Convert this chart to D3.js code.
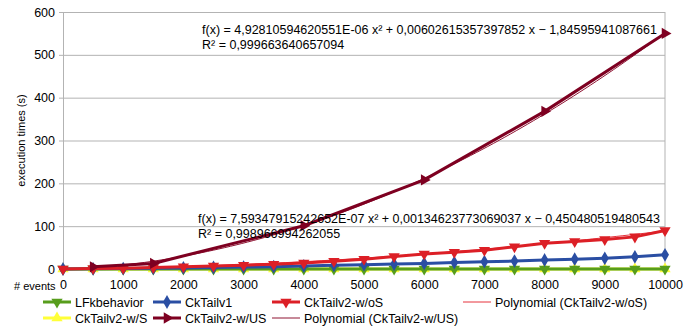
<!DOCTYPE html>
<html>
<head>
<meta charset="utf-8">
<script src="https://cdn.jsdelivr.net/npm/d3@7"></script>
<style>
  body { margin: 0; background: #fff; }
  svg { display: block; font-family: "Liberation Sans", Arial, sans-serif; }
  .grid line { stroke: #b3b3b3; stroke-width: 1; }
  .grid path { display: none; }
  .y-axis path, .y-axis line { stroke: #b3b3b3; }
  .y-axis text, .x-axis text { font-size: 12.5px; fill: #000; }
  .x-axis path, .x-axis line { display: none; }
</style>
</head>
<body>
<div id="chart"></div>
<script>
// x values (# events)
const events = [0, 500, 1000, 1500, 2000, 2500, 3000, 3500, 4000, 4500, 5000,
  5500, 6000, 6500, 7000, 7500, 8000, 8500, 9000, 9500, 10000];
const eventsWUS = [500, 1500, 4000, 6000, 8000, 10000];

// execution times (s)
const lfkbehavior = [0, 0, 0, 0, 0, 0, 0, 0, 0, 0, 0, 0, 0, 0, 0, 0, 0, 0, 0, 0, 0];
const ckTailv1 = [0, 0.5, 1, 1.5, 2.5, 3.5, 4.5, 5.5, 7, 8.5, 10, 11.5, 13, 15, 17, 18.5, 21, 23, 25, 28.5, 33];
const ckTailv2WoS = [0, 1, 2, 3.5, 5, 7, 9, 11, 14, 18, 23, 29, 35, 39, 44, 52, 60, 64, 69, 75, 90];
const ckTailv2WS = [0, 0, 0, 0, 0, 0, 0, 0, 0, 0, 0, 0, 0, 0, 0, 0, 0, 0, 0, 0, 0];
const ckTailv2WUS = [5, 13, 101, 208, 368, 550];

// trend line coefficients (a x² + b x + c) as printed on the chart
const polyWoS = [7.59347915242652E-07, 0.00134623773069037, -0.450480519480543];
const polyWUS = [4.92810594620551E-06, 0.00602615357397852, -1.84595941087661];
const eqWoS = ["f(x) = 7,59347915242652E-07 x² + 0,00134623773069037 x − 0,450480519480543",
  "R² = 0,998966994262055"];
const eqWUS = ["f(x) = 4,92810594620551E-06 x² + 0,00602615357397852 x − 1,84595941087661",
  "R² = 0,999663640657094"];

const yTicks = [0, 100, 200, 300, 400, 500, 600];
const xTicks = [0, 1000, 2000, 3000, 4000, 5000, 6000, 7000, 8000, 9000, 10000];

const width = 697, height = 332;
const margin = {top: 12, right: 32, bottom: 63, left: 63};

const svg = d3.select("#chart").append("svg")
  .attr("width", width).attr("height", height);
svg.append("rect").attr("width", width).attr("height", height).attr("fill", "#fff");

const x = d3.scaleLinear().domain([0, 10000]).range([margin.left, width - margin.right]);
const y = d3.scaleLinear().domain([0, 600]).range([height - margin.bottom, margin.top]);

// horizontal grid
svg.append("g")
  .attr("class", "grid")
  .attr("transform", "translate(" + margin.left + ",0)")
  .call(d3.axisLeft(y).tickValues(yTicks).tickSize(-(x.range()[1] - x.range()[0])).tickFormat(""));
// right border of plot area
svg.append("line")
  .attr("x1", x(10000)).attr("x2", x(10000))
  .attr("y1", y(600)).attr("y2", y(0))
  .attr("stroke", "#b3b3b3");

// y axis
svg.append("g")
  .attr("class", "y-axis")
  .attr("transform", "translate(" + margin.left + ",0)")
  .call(d3.axisLeft(y).tickValues(yTicks).tickSize(4).tickPadding(4).tickSizeOuter(0));

// x axis labels
svg.append("g")
  .attr("class", "x-axis")
  .attr("transform", "translate(0," + y(0) + ")")
  .call(d3.axisBottom(x).tickValues(xTicks).tickFormat(d3.format("d")).tickSize(0).tickPadding(11));

svg.append("text")
  .attr("x", 14).attr("y", 290)
  .style("font-size", "11px")
  .text("# events");

svg.append("text")
  .attr("transform", "translate(25," + ((y(0) + y(600)) / 2) + ") rotate(-90)")
  .attr("text-anchor", "middle")
  .style("font-size", "11px")
  .text("execution times (s)");

const trendWoSColor = "#e6323c", trendWUSColor = "#8f1433";

const line = d3.line().x(d => x(d[0])).y(d => y(d[1]));

function polyPoints(c, x0, x1) {
  let pts = [];
  for (let i = 0; i <= 100; i++) {
    let v = x0 + (x1 - x0) * i / 100;
    pts.push([v, c[0] * v * v + c[1] * v + c[2]]);
  }
  return pts;
}

// polynomial trend lines (under the series)
svg.append("path")
  .datum(polyPoints(polyWoS, 0, 10000))
  .attr("fill", "none").attr("stroke", trendWoSColor).attr("stroke-width", 1)
  .attr("d", line);
svg.append("path")
  .datum(polyPoints(polyWUS, 500, 10000))
  .attr("fill", "none").attr("stroke", trendWUSColor).attr("stroke-width", 1)
  .attr("d", line);

// series
const series = [
  {name: "CkTailv2-w/S", xs: events, ys: ckTailv2WS, color: "#ffff38", marker: "up"},
  {name: "LFkbehavior", xs: events, ys: lfkbehavior, color: "#579d1c", marker: "down"},
  {name: "CkTailv1", xs: events, ys: ckTailv1, color: "#2a4ea3", marker: "diamond"},
  {name: "CkTailv2-w/oS", xs: events, ys: ckTailv2WoS, color: "#dc1f26", marker: "down"},
  {name: "CkTailv2-w/US", xs: eventsWUS, ys: ckTailv2WUS, color: "#7e0021", marker: "right"}
];

function markerPath(kind) {
  if (kind === "diamond") return d3.symbol(d3.symbolDiamond, 55)();
  return d3.symbol(d3.symbolTriangle, 55)();
}
function markerRotate(kind) {
  if (kind === "down") return 180;
  if (kind === "right") return 90;
  return 0;
}

series.forEach(s => {
  let pts = s.xs.map((v, i) => [v, s.ys[i]]);
  svg.append("path")
    .datum(pts)
    .attr("fill", "none")
    .attr("stroke", s.color)
    .attr("stroke-width", 3)
    .attr("stroke-linejoin", "round")
    .attr("d", line);
  svg.selectAll(null)
    .data(pts)
    .enter().append("path")
      .attr("d", markerPath(s.marker))
      .attr("fill", s.color)
      .attr("transform", d => "translate(" + x(d[0]) + "," + y(d[1]) + ") rotate(" + markerRotate(s.marker) + ")");
});

// equations
function equation(lines, tx, ty) {
  lines.forEach((t, i) => {
    svg.append("text")
      .attr("x", tx).attr("y", ty + i * 15)
      .style("font-size", "12.5px")
      .text(t);
  });
}
equation(eqWUS, 202, 34);
equation(eqWoS, 198, 223);

// legend
const legend = [
  {name: "LFkbehavior", color: "#579d1c", marker: "down", col: 0, row: 0},
  {name: "CkTailv1", color: "#2a4ea3", marker: "diamond", col: 1, row: 0},
  {name: "CkTailv2-w/oS", color: "#dc1f26", marker: "down", col: 2, row: 0},
  {name: "Polynomial (CkTailv2-w/oS)", color: trendWoSColor, marker: null, col: 3, row: 0},
  {name: "CkTailv2-w/S", color: "#ffff38", marker: "up", col: 0, row: 1},
  {name: "CkTailv2-w/US", color: "#7e0021", marker: "right", col: 1, row: 1},
  {name: "Polynomial (CkTailv2-w/US)", color: trendWUSColor, marker: null, col: 2, row: 1}
];
const colX = [43, 153, 272, 463];
const rowY = [302, 318];

legend.forEach(l => {
  let lx = colX[l.col], ly = rowY[l.row];
  let g = svg.append("g").attr("transform", "translate(" + lx + "," + ly + ")");
  g.append("line")
    .attr("x1", 0).attr("x2", 28).attr("y1", 0).attr("y2", 0)
    .attr("stroke", l.color).attr("stroke-width", l.marker ? 3 : 1);
  if (l.marker) {
    g.append("path")
      .attr("d", markerPath(l.marker))
      .attr("fill", l.color)
      .attr("transform", "translate(14,0) rotate(" + markerRotate(l.marker) + ")");
  }
  g.append("text")
    .attr("x", 32).attr("y", 4.5)
    .style("font-size", "12.5px")
    .text(l.name);
});
</script>
</body>
</html>
